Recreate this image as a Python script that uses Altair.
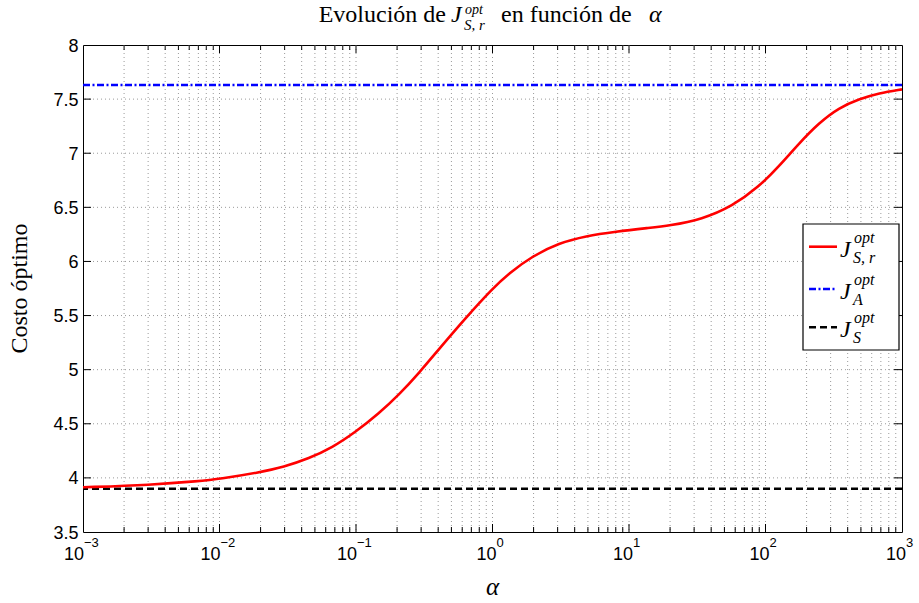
import altair as alt
import pandas as pd

# ---- data ----
alpha = [0.001, 0.00316, 0.0071, 0.01, 0.0195, 0.0295, 0.0453, 0.067, 0.0984,
         0.147, 0.207, 0.29, 0.405, 0.637, 1.0, 1.32, 1.96, 3.07, 4.82, 7.98,
         14.0, 19.6, 34.4, 57.1, 89.5, 125.6, 175.8, 246.6, 345.1, 484.2,
         677.6, 1000.0]
cost_sr = [3.913, 3.935, 3.97, 3.99, 4.05, 4.10, 4.18, 4.28, 4.42,
           4.595, 4.77, 4.97, 5.19, 5.48, 5.75, 5.89, 6.05, 6.17, 6.235, 6.275,
           6.31, 6.33, 6.39, 6.51, 6.69, 6.88, 7.09, 7.28, 7.42, 7.50,
           7.555, 7.59]
cost_a = 7.63
cost_s = 3.90

decades = [0.001, 0.01, 0.1, 1, 10, 100, 1000]
exponents = ["\u22123", "\u22122", "\u22121", "0", "1", "2", "3"]
minor_x = [m * d for d in [0.001, 0.01, 0.1, 1, 10, 100] for m in range(2, 10)]
y_ticks = [3.5, 4, 4.5, 5, 5.5, 6, 6.5, 7, 7.5, 8]
y_tick_labels = ["3.5", "4", "4.5", "5", "5.5", "6", "6.5", "7", "7.5", "8"]

W, H = 819, 487
SERIF = "Liberation Serif"
SANS = "Liberation Sans"

xs = alt.Scale(type="log", domain=[0.001, 1000], nice=False)
ys = alt.Scale(domain=[3.5, 8], nice=False, zero=False)

curve = pd.DataFrame({"alpha": alpha, "cost": cost_sr})
dec_df = pd.DataFrame({"alpha": decades, "exp": exponents,
                       "neg": [e.startswith("\u2212") for e in exponents]})
grid_x = pd.DataFrame({"alpha": [a for a in minor_x] + decades[1:-1]})
minor_df = pd.DataFrame({"alpha": minor_x})
major_df = pd.DataFrame({"alpha": decades[1:-1]})
yt_df = pd.DataFrame({"y": y_ticks, "label": y_tick_labels})
yin_df = pd.DataFrame({"y": y_ticks[1:-1]})
hl_df = pd.DataFrame({"name": ["A", "S"], "y": [cost_a, cost_s]})
one = pd.DataFrame({"k": [0]})

X = lambda f="alpha": alt.X(f"{f}:Q", scale=xs, axis=None)
Y = lambda f: alt.Y(f"{f}:Q", scale=ys, axis=None)

grid_color = "#9a9a9a"
vgrid = alt.Chart(grid_x).mark_rule(color=grid_color, strokeDash=[1, 3], strokeWidth=1).encode(x=X())
hgrid = alt.Chart(yin_df).mark_rule(color=grid_color, strokeDash=[1, 3], strokeWidth=1).encode(y=Y("y"))

line_s = alt.Chart(hl_df).transform_filter("datum.name == 'S'").mark_rule(
    color="black", strokeWidth=2.6, strokeDash=[7, 4]).encode(y=Y("y"))
line_a = alt.Chart(hl_df).transform_filter("datum.name == 'A'").mark_rule(
    color="#0000ff", strokeWidth=2.6, strokeDash=[7, 2.5, 2, 2.5]).encode(y=Y("y"))
line_sr = alt.Chart(curve).mark_line(color="#ff0000", strokeWidth=2.6,
                                     interpolate="basis").encode(x=X(), y=Y("cost"))

# inward ticks
tk = dict(color="black", strokeWidth=1)
xt_major_b = alt.Chart(major_df).mark_rule(**tk).encode(x=X(), y=alt.value(H), y2=alt.value(H - 8))
xt_major_t = alt.Chart(major_df).mark_rule(**tk).encode(x=X(), y=alt.value(0), y2=alt.value(8))
xt_minor_b = alt.Chart(minor_df).mark_rule(**tk).encode(x=X(), y=alt.value(H), y2=alt.value(H - 5))
xt_minor_t = alt.Chart(minor_df).mark_rule(**tk).encode(x=X(), y=alt.value(0), y2=alt.value(5))
yt_l = alt.Chart(yin_df).mark_rule(**tk).encode(y=Y("y"), x=alt.value(0), x2=alt.value(8))
yt_r = alt.Chart(yin_df).mark_rule(**tk).encode(y=Y("y"), x=alt.value(W), x2=alt.value(W - 8))

# tick labels
ylab = alt.Chart(yt_df).mark_text(align="right", baseline="middle", font=SANS, fontSize=18,
                                  color="black", dx=-4.5, dy=1.5).encode(
    y=Y("y"), x=alt.value(0), text="label:N")
ten_neg = alt.Chart(dec_df).transform_filter("datum.neg").mark_text(
    text="10", align="right", baseline="alphabetic", font=SANS, fontSize=18, color="black", dx=1
).encode(x=X(), y=alt.value(H + 28))
exp_neg = alt.Chart(dec_df).transform_filter("datum.neg").mark_text(
    align="left", baseline="alphabetic", font=SANS, fontSize=13, color="black", dx=1
).encode(x=X(), y=alt.value(H + 15), text="exp:N")
ten_pos = alt.Chart(dec_df).transform_filter("!datum.neg").mark_text(
    text="10", align="right", baseline="alphabetic", font=SANS, fontSize=18, color="black", dx=4
).encode(x=X(), y=alt.value(H + 28))
exp_pos = alt.Chart(dec_df).transform_filter("!datum.neg").mark_text(
    align="left", baseline="alphabetic", font=SANS, fontSize=13, color="black", dx=4
).encode(x=X(), y=alt.value(H + 15), text="exp:N")

def txt(s, x, y, size, italic=False, align="left", angle=None, baseline="alphabetic"):
    kw = dict(text=s, align=align, baseline=baseline, font=SERIF, fontSize=size, color="black")
    if italic:
        kw["fontStyle"] = "italic"
    if angle is not None:
        kw["angle"] = angle
    return alt.Chart(one).mark_text(**kw).encode(x=alt.value(x), y=alt.value(y))

# axis titles
ytitle = txt("Costo óptimo", -56.5, H / 2, 24, angle=270, align="center")
xtitle = txt("α", W / 2, 550, 25, italic=True, align="center")

# title pieces
title = [
    txt("Evolución de", 363, -23, 24, align="right"),
    txt("J", 368, -23, 24, italic=True),
    txt("opt", 382, -31.5, 14, italic=True),
    txt("S, r", 381, -15, 15, italic=True),
    txt("en función de", 418, -23, 24),
    txt("α", 566, -23, 24, italic=True),
]

# legend
box = alt.Chart(one).mark_rect(fill="white", stroke="black", strokeWidth=1.2).encode(
    x=alt.value(720), x2=alt.value(816), y=alt.value(179), y2=alt.value(305))
leg_y = [201.7, 244, 282.3]
leg_lines = [
    alt.Chart(one).mark_rule(color="#ff0000", strokeWidth=2.6).encode(
        x=alt.value(726), x2=alt.value(754), y=alt.value(leg_y[0])),
    alt.Chart(one).mark_rule(color="#0000ff", strokeWidth=2.6, strokeDash=[7, 2.5, 2, 2.5]).encode(
        x=alt.value(726), x2=alt.value(754), y=alt.value(leg_y[1])),
    alt.Chart(one).mark_rule(color="black", strokeWidth=2.6, strokeDash=[7, 4]).encode(
        x=alt.value(726), x2=alt.value(754), y=alt.value(leg_y[2])),
]
leg_text = []
for yc, sub in zip(leg_y, ["S, r", "A", "S"]):
    leg_text += [
        txt("J", 757, yc + 10, 24, italic=True),
        txt("opt", 771, yc - 4, 16, italic=True),
        txt(sub, 770, yc + 16, 16, italic=True),
    ]

chart = alt.layer(
    vgrid, hgrid, line_s, line_a, line_sr,
    xt_major_b, xt_major_t, xt_minor_b, xt_minor_t, yt_l, yt_r,
    ylab, ten_neg, exp_neg, ten_pos, exp_pos,
    ytitle, xtitle, *title, box, *leg_lines, *leg_text
).properties(
    width=W, height=H,
    autosize=alt.AutoSizeParams(type="none"),
    padding={"left": 83, "top": 45, "right": 17, "bottom": 71},
    background="white",
).configure_view(stroke="black", strokeWidth=1)

chart.save("out.html", embed_options={"renderer": "svg", "actions": False})
